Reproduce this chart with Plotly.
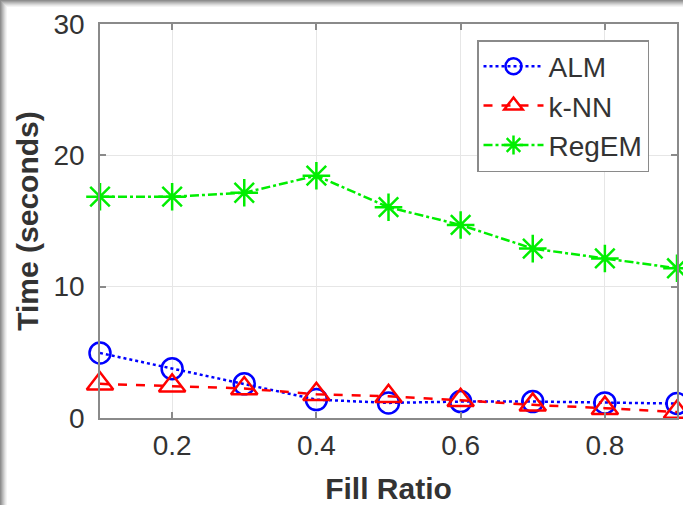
import plotly.graph_objects as go

fill_ratio = [0.1, 0.2, 0.3, 0.4, 0.5, 0.6, 0.7, 0.8, 0.9]
alm_time = [4.95, 3.75, 2.6, 1.4, 1.15, 1.25, 1.25, 1.15, 1.1]
knn_time = [2.6, 2.45, 2.25, 1.8, 1.65, 1.35, 1.0, 0.75, 0.45]
regem_time = [16.85, 16.85, 17.15, 18.45, 16.05, 14.7, 12.9, 12.15, 11.4]

x_ticks = [0.2, 0.4, 0.6, 0.8]
y_ticks = [0, 10, 20, 30]

W, H = 683, 505
L, R, T, B = 100, 6, 24, 87
PW, PH = W - L - R, H - T - B


def px_x(p):
    return (p - L) / PW


def px_y(p):
    return (H - B - p) / PH


FONT = "Liberation Sans, Arial, sans-serif"
TXT = "#333333"

fig = go.Figure()
fig.add_trace(go.Scatter(
    x=fill_ratio, y=alm_time, name="ALM", mode="lines+markers",
    line=dict(color="#0000ff", width=2.5, dash="dot"),
    marker=dict(symbol="circle-open", size=21, color="#0000ff", line=dict(width=2.5)),
    cliponaxis=False))
fig.add_trace(go.Scatter(
    x=fill_ratio, y=knn_time, name="k-NN", mode="lines+markers",
    line=dict(color="#ff0000", width=2.5, dash="dash"),
    marker=dict(symbol="triangle-up-open", size=23, color="#ff0000", line=dict(width=2.5)),
    cliponaxis=False))
fig.add_trace(go.Scatter(
    x=fill_ratio, y=regem_time, name="RegEM", mode="lines+markers",
    line=dict(color="#00ee00", width=2.5, dash="dashdot"),
    marker=dict(symbol="asterisk-open", size=23, color="#00ee00", line=dict(width=2.5, color="#00ee00")),
    cliponaxis=False))

# screenshot drop-shadow bands (drawn in paper coordinates, outside the plot area)
shadow = ["#8e8e8e", "#a0a0a0", "#b4b4b4", "#c6c6c6", "#d8d8d8", "#e8e8e8", "#f4f4f4"]
shapes = []
for i, c in enumerate(shadow):
    shapes.append(dict(type="rect", xref="paper", yref="paper",
                       x0=px_x(i), x1=px_x(i + 1), y0=px_y(H), y1=px_y(i),
                       fillcolor=c, line=dict(width=0)))
    shapes.append(dict(type="rect", xref="paper", yref="paper",
                       x0=px_x(i), x1=px_x(W), y0=px_y(i + 1), y1=px_y(i),
                       fillcolor=c, line=dict(width=0)))

axis_common = dict(
    showline=True, linecolor="#8a8a8a", linewidth=1.5, mirror="ticks",
    ticks="inside", ticklen=6, tickcolor="#8a8a8a", tickwidth=1.5,
    showgrid=True, gridcolor="#e6e6e6", gridwidth=1, zeroline=False,
    tickfont=dict(family=FONT, size=28, color=TXT), automargin=False,
)

fig.update_layout(
    width=W, height=H,
    margin=dict(l=L, r=R, t=T, b=B),
    paper_bgcolor="white", plot_bgcolor="white",
    font=dict(family=FONT, color=TXT),
    xaxis=dict(range=[0.1, 0.9], tickvals=x_ticks, ticktext=[f"{v:.1f}" for v in x_ticks],
               title=dict(text="<b>Fill Ratio</b>", font=dict(family=FONT, size=30, color=TXT), standoff=18),
               ticklabelstandoff=2, **axis_common),
    yaxis=dict(range=[0, 30], tickvals=y_ticks, ticktext=[str(v) for v in y_ticks],
               title=dict(text="<b>Time (seconds)</b>", font=dict(family=FONT, size=30, color=TXT), standoff=6),
               ticklabelstandoff=8, **axis_common),
    legend=dict(x=px_x(477), y=px_y(40), xanchor="left", yanchor="top",
                bgcolor="white", bordercolor="#8a8a8a", borderwidth=1.5,
                font=dict(family=FONT, size=28, color=TXT), tracegroupgap=0,
                itemwidth=60),
    shapes=shapes,
    showlegend=True,
)

fig.write_html("out.html", config={"displayModeBar": False},
               post_script="document.body.style.margin='0px';document.body.style.overflow='hidden';")
